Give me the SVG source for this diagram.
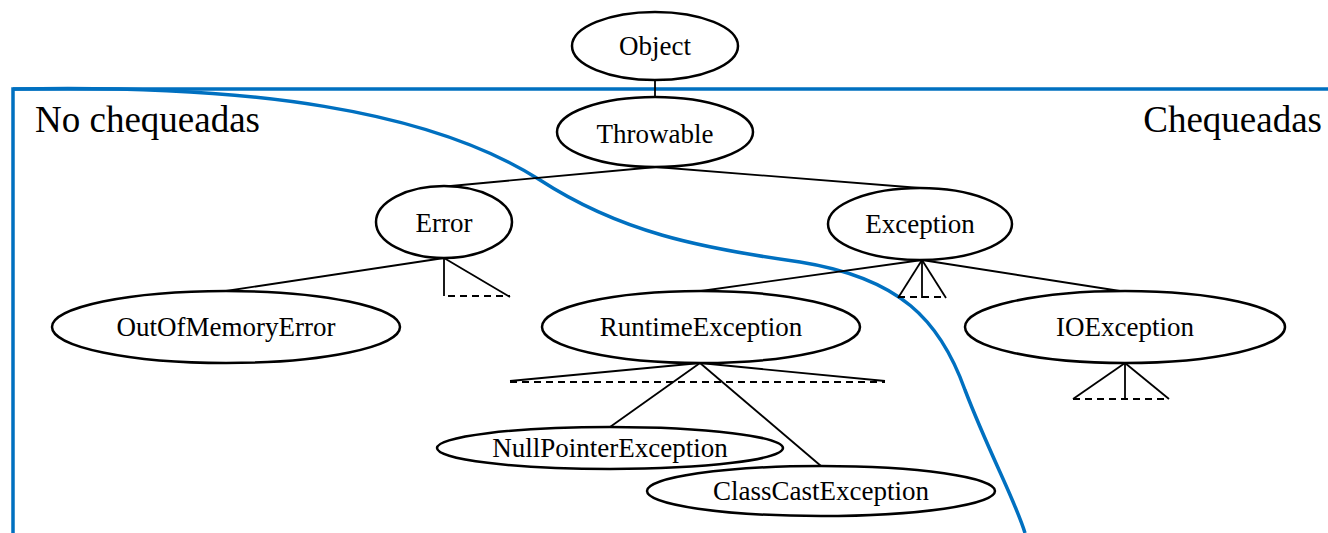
<svg xmlns="http://www.w3.org/2000/svg" width="1328" height="533" viewBox="0 0 1328 533">
<style>
.n ellipse{fill:#fff;stroke:#000;stroke-width:2.5}
.n text{font-family:"Liberation Serif","Times New Roman",serif;font-size:27px;text-anchor:middle;fill:#000}
.c line{stroke:#000;stroke-width:1.8}
.c line.d{stroke-dasharray:7 5}
.b{fill:none;stroke:#0070C0;stroke-width:3.5}
.lbl{font-family:"Liberation Serif","Times New Roman",serif;font-size:37px;fill:#000}
</style>
<rect width="1328" height="533" fill="#fff"/>
<g id="frame">
<path class="b" d="M13,533 V89 H1328"/>
<path class="b" d="M13,89 C250,84 430,110 540,180 C620,232 700,248 800,262 C900,278 940,320 965,390 C990,455 1015,500 1025,533"/>
</g>
<text class="lbl" x="35" y="132">No chequeadas</text>
<text class="lbl" x="1322" y="132" text-anchor="end">Chequeadas</text>
<g id="connectors" class="c">
<line x1="655" y1="80" x2="655" y2="98"/>
<line x1="656" y1="167" x2="440" y2="187"/>
<line x1="656" y1="167" x2="920" y2="188"/>
<line x1="444" y1="258" x2="226" y2="291"/>
<line x1="444" y1="258" x2="444" y2="296"/>
<line x1="444" y1="258" x2="510" y2="297"/>
<line class="d" x1="448" y1="296" x2="510" y2="296"/>
<line x1="922" y1="260" x2="701" y2="291"/>
<line x1="922" y1="260" x2="1120" y2="291"/>
<line x1="922" y1="260" x2="898" y2="298"/>
<line x1="922" y1="260" x2="922" y2="298"/>
<line x1="922" y1="260" x2="946" y2="298"/>
<line class="d" x1="898" y1="297" x2="946" y2="297"/>
<line x1="700" y1="363" x2="510" y2="381"/>
<line x1="700" y1="363" x2="885" y2="381"/>
<line class="d" x1="510" y1="382" x2="885" y2="382"/>
<line x1="700" y1="363" x2="610" y2="427"/>
<line x1="700" y1="363" x2="821" y2="466"/>
<line x1="1125" y1="363" x2="1073" y2="399"/>
<line x1="1125" y1="363" x2="1125" y2="399"/>
<line x1="1125" y1="363" x2="1169" y2="399"/>
<line class="d" x1="1073" y1="399" x2="1169" y2="399"/>
</g>
<g id="object" class="n"><ellipse cx="655" cy="46" rx="83" ry="34"/><text x="655" y="55">Object</text></g>
<g id="throwable" class="n"><ellipse cx="655" cy="132" rx="98" ry="35"/><text x="655" y="143">Throwable</text></g>
<g id="error" class="n"><ellipse cx="444" cy="222" rx="68" ry="36"/><text x="444" y="232">Error</text></g>
<g id="exception" class="n"><ellipse cx="920" cy="224" rx="92" ry="36"/><text x="920" y="233">Exception</text></g>
<g id="outofmemoryerror" class="n"><ellipse cx="226" cy="327" rx="174" ry="36"/><text x="226" y="336">OutOfMemoryError</text></g>
<g id="runtimeexception" class="n"><ellipse cx="701" cy="327" rx="159" ry="36"/><text x="701" y="336">RuntimeException</text></g>
<g id="ioexception" class="n"><ellipse cx="1125" cy="327" rx="160" ry="36"/><text x="1125" y="336">IOException</text></g>
<g id="nullpointerexception" class="n"><ellipse cx="610" cy="448" rx="173" ry="21"/><text x="610" y="457">NullPointerException</text></g>
<g id="classcastexception" class="n"><ellipse cx="821" cy="491" rx="174" ry="25"/><text x="821" y="500">ClassCastException</text></g>
</svg>
